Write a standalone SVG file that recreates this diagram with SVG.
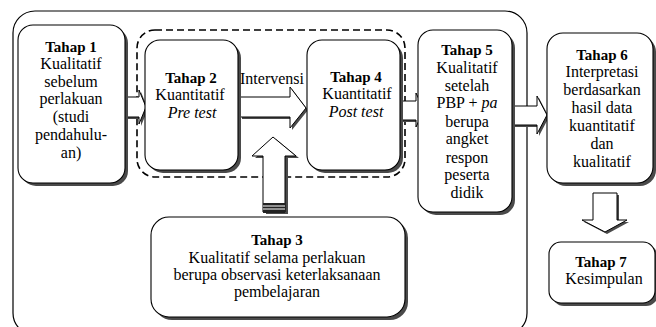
<svg xmlns="http://www.w3.org/2000/svg" width="656" height="327" viewBox="0 0 656 327">
<defs>
  <path id="arrR1" d="M123,97 H139 V90 L146,107 L139,124 V117 H123 Z"/>
  <path id="arrR2" d="M240,97 H290 V87 L306,108 L290,128 V117 H240 Z"/>
  <path id="arrU" d="M263,212 V156 H252 L273,137 L296,156 H285 V212 Z"/>
  <path id="arrR3" d="M400,101 H416 V93 L424,110 L416,127 V120 H400 Z"/>
  <path id="arrR4" d="M513,106 H537 V96 L547,115 L537,134 V125 H513 Z"/>
  <path id="arrD" d="M593,193 H617 V220 H627 L605,232 L582,220 H593 Z"/>
</defs>
<rect width="656" height="327" fill="#fff"/>
<rect x="13" y="11" width="514" height="324" rx="22" fill="none" stroke="#000" stroke-width="1.2"/>
<rect x="137" y="30" width="268" height="147" rx="18" fill="none" stroke="#000" stroke-width="1.6" stroke-dasharray="7,4"/>

<g id="connectors">
  <g fill="#4a4a4a">
    <use href="#arrR1" transform="translate(2,2)"/>
    <use href="#arrR2" transform="translate(2,2)"/>
    <use href="#arrU" transform="translate(3,2)"/>
    <use href="#arrR3" transform="translate(2,2)"/>
    <use href="#arrR4" transform="translate(2,2)"/>
    <use href="#arrD" transform="translate(2,2)"/>
  </g>
  <g fill="#fff" stroke="#000" stroke-width="1">
    <use href="#arrR1"/>
    <use href="#arrR2"/>
    <use href="#arrU"/>
    <use href="#arrR3"/>
    <use href="#arrR4"/>
    <use href="#arrD"/>
  </g>
  <rect x="263" y="203" width="22" height="10" fill="#222"/>
  <line x1="263" y1="206" x2="285" y2="206" stroke="#fff" stroke-width="1"/>
  <line x1="263" y1="209" x2="285" y2="209" stroke="#fff" stroke-width="1"/>
</g>

<g id="tahap1">
  <rect fill="#4a4a4a" x="21" y="28" width="107" height="158" rx="15"/>
  <rect fill="#fff" stroke="#000" stroke-width="1.1" x="18" y="25" width="107" height="158" rx="15"/>
  <g font-family="Times New Roman" font-size="16" text-anchor="middle">
  <text font-weight="bold" font-size="15" x="71" y="52">Tahap 1</text>
  <text x="71" y="69">Kualitatif</text>
  <text x="71" y="87">sebelum</text>
  <text x="71" y="104">perlakuan</text>
  <text x="71" y="122">(studi</text>
  <text x="71" y="140">pendahulu-</text>
  <text x="71" y="158">an)</text>
  </g>
</g>

<g id="tahap2">
  <rect fill="#4a4a4a" x="148" y="43" width="93" height="130" rx="15"/>
  <rect fill="#fff" stroke="#000" stroke-width="1.1" x="145" y="40" width="93" height="130" rx="15"/>
  <g font-family="Times New Roman" font-size="16" text-anchor="middle">
  <text font-weight="bold" font-size="15" x="191" y="83">Tahap 2</text>
  <text x="190" y="100">Kuantitatif</text>
  <text font-style="italic" x="192" y="118">Pre test</text>
  </g>
</g>

<text font-family="Times New Roman" font-size="16" text-anchor="middle" x="272" y="84">Intervensi</text>

<g id="tahap4">
  <rect fill="#4a4a4a" x="310" y="43" width="93" height="130" rx="15"/>
  <rect fill="#fff" stroke="#000" stroke-width="1.1" x="307" y="40" width="93" height="130" rx="15"/>
  <g font-family="Times New Roman" font-size="16" text-anchor="middle">
  <text font-weight="bold" font-size="15" x="356" y="82">Tahap 4</text>
  <text x="357" y="99">Kuantitatif</text>
  <text font-style="italic" x="356" y="117">Post test</text>
  </g>
</g>

<g id="tahap5">
  <rect fill="#4a4a4a" x="421" y="33" width="94" height="182" rx="15"/>
  <rect fill="#fff" stroke="#000" stroke-width="1.1" x="418" y="30" width="94" height="182" rx="15"/>
  <g font-family="Times New Roman" font-size="16" text-anchor="middle">
  <text font-weight="bold" font-size="15" x="467" y="55">Tahap 5</text>
  <text x="467" y="73">Kualitatif</text>
  <text x="467" y="91">setelah</text>
  <text x="467" y="108">PBP + <tspan font-style="italic">pa</tspan></text>
  <text x="467" y="127">berupa</text>
  <text x="467" y="144">angket</text>
  <text x="467" y="163">respon</text>
  <text x="467" y="180">peserta</text>
  <text x="467" y="198">didik</text>
  </g>
</g>

<g id="tahap6">
  <rect fill="#4a4a4a" x="550" y="36" width="106" height="150" rx="16"/>
  <rect fill="#fff" stroke="#000" stroke-width="1.1" x="547" y="33" width="106" height="150" rx="16"/>
  <g font-family="Times New Roman" font-size="16" text-anchor="middle">
  <text font-weight="bold" font-size="15" x="602" y="60">Tahap 6</text>
  <text x="602" y="77">Interpretasi</text>
  <text x="602" y="95">berdasarkan</text>
  <text x="602" y="113">hasil data</text>
  <text x="602" y="131">kuantitatif</text>
  <text x="602" y="149">dan</text>
  <text x="602" y="167">kualitatif</text>
  </g>
</g>

<g id="tahap3">
  <rect fill="#4a4a4a" x="154" y="220" width="254" height="100" rx="18"/>
  <rect fill="#fff" stroke="#000" stroke-width="1.1" x="151" y="217" width="254" height="100" rx="18"/>
  <g font-family="Times New Roman" font-size="16" text-anchor="middle">
  <text font-weight="bold" font-size="15" x="277" y="245">Tahap 3</text>
  <text x="277" y="263">Kualitatif selama perlakuan</text>
  <text x="277" y="280">berupa observasi keterlaksanaan</text>
  <text x="277" y="297">pembelajaran</text>
  </g>
</g>

<g id="tahap7">
  <rect fill="#4a4a4a" x="552" y="245" width="106" height="61" rx="12"/>
  <rect fill="#fff" stroke="#000" stroke-width="1.1" x="549" y="242" width="106" height="61" rx="12"/>
  <g font-family="Times New Roman" font-size="16" text-anchor="middle">
  <text font-weight="bold" font-size="15" x="601" y="267">Tahap 7</text>
  <text x="604" y="284">Kesimpulan</text>
  </g>
</g>
</svg>
